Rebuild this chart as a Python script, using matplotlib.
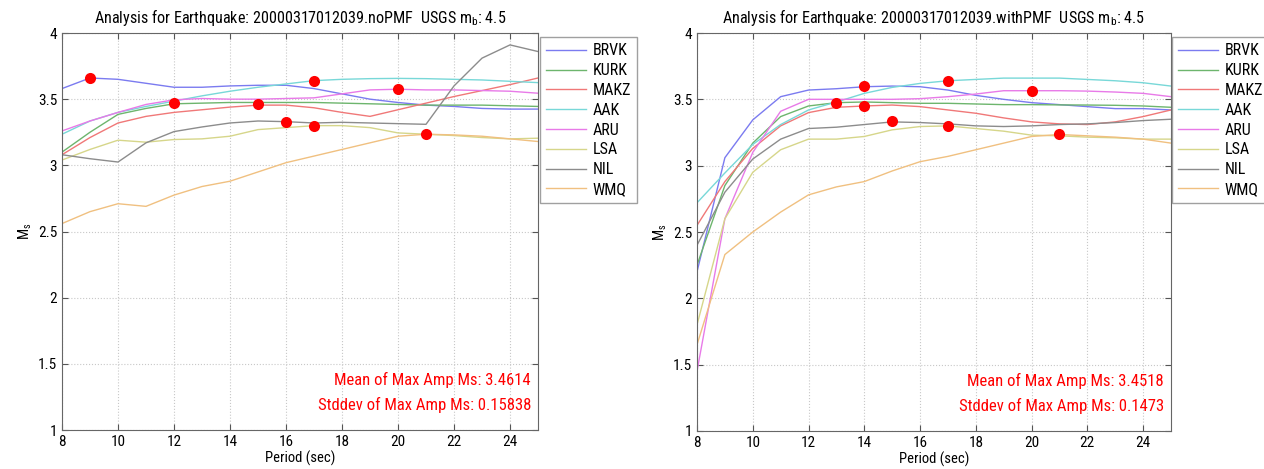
import matplotlib
matplotlib.use("Agg")
import matplotlib.pyplot as plt
from matplotlib import font_manager

# look for a condensed face, fall back to plain DejaVu Sans
names = {f.name for f in font_manager.fontManager.ttflist}
narrow = [n for n in ['Liberation Sans Narrow', 'DejaVu Sans Condensed', 'Roboto Condensed'] if n in names]
plt.rcParams['font.family'] = narrow + ['DejaVu Sans']

# --- DATA ---
periods = list(range(8, 26))
stations = ['BRVK', 'KURK', 'MAKZ', 'AAK', 'ARU', 'LSA', 'NIL', 'WMQ']
colors = ['#7b7bf0', '#6db56d', '#f07878', '#78d8d8', '#e87ae8', '#d6d68a', '#8c8c8c', '#f0c080']

# noPMF panel
brvk_no = [3.58, 3.66, 3.65, 3.62, 3.59, 3.59, 3.60, 3.605, 3.605, 3.58, 3.54, 3.50, 3.475, 3.455, 3.445, 3.43, 3.425, 3.425]
kurk_no = [3.10, 3.25, 3.385, 3.43, 3.465, 3.47, 3.475, 3.475, 3.475, 3.475, 3.47, 3.465, 3.46, 3.455, 3.455, 3.455, 3.45, 3.445]
makz_no = [3.08, 3.21, 3.32, 3.37, 3.40, 3.42, 3.44, 3.455, 3.455, 3.435, 3.40, 3.37, 3.42, 3.47, 3.52, 3.565, 3.61, 3.66]
aak_no = [3.235, 3.335, 3.40, 3.445, 3.485, 3.525, 3.56, 3.59, 3.615, 3.64, 3.65, 3.655, 3.657, 3.655, 3.65, 3.645, 3.635, 3.625]
aru_no = [3.26, 3.335, 3.40, 3.46, 3.495, 3.505, 3.50, 3.50, 3.505, 3.51, 3.54, 3.57, 3.575, 3.57, 3.57, 3.565, 3.56, 3.545]
lsa_no = [3.04, 3.12, 3.19, 3.175, 3.195, 3.20, 3.22, 3.27, 3.285, 3.30, 3.30, 3.285, 3.245, 3.235, 3.225, 3.21, 3.20, 3.205]
nil_no = [3.08, 3.05, 3.025, 3.17, 3.255, 3.29, 3.32, 3.335, 3.33, 3.32, 3.325, 3.32, 3.315, 3.31, 3.60, 3.81, 3.91, 3.86]
wmq_no = [2.56, 2.65, 2.71, 2.69, 2.775, 2.84, 2.88, 2.95, 3.02, 3.07, 3.12, 3.17, 3.22, 3.235, 3.23, 3.22, 3.20, 3.18]
dots_no_x = [9, 12, 15, 16, 17, 17, 20, 21]
dots_no_y = [3.66, 3.47, 3.465, 3.33, 3.64, 3.30, 3.575, 3.24]

# withPMF panel
brvk_pmf = [2.2, 3.06, 3.345, 3.52, 3.57, 3.58, 3.595, 3.6, 3.595, 3.57, 3.53, 3.5, 3.475, 3.46, 3.445, 3.43, 3.43, 3.42]
kurk_pmf = [2.25, 2.85, 3.17, 3.37, 3.45, 3.475, 3.48, 3.475, 3.47, 3.47, 3.465, 3.46, 3.46, 3.458, 3.457, 3.455, 3.45, 3.44]
makz_pmf = [2.55, 2.88, 3.13, 3.30, 3.40, 3.44, 3.45, 3.457, 3.445, 3.42, 3.395, 3.36, 3.33, 3.315, 3.31, 3.33, 3.37, 3.42]
aak_pmf = [2.72, 2.945, 3.16, 3.31, 3.42, 3.48, 3.545, 3.59, 3.62, 3.64, 3.65, 3.66, 3.66, 3.66, 3.65, 3.64, 3.625, 3.60]
aru_pmf = [1.45, 2.6, 3.1, 3.41, 3.5, 3.5, 3.5, 3.5, 3.505, 3.52, 3.54, 3.565, 3.565, 3.565, 3.562, 3.555, 3.545, 3.52]
lsa_pmf = [1.8, 2.6, 2.95, 3.12, 3.2, 3.2, 3.22, 3.27, 3.295, 3.30, 3.28, 3.26, 3.23, 3.225, 3.215, 3.21, 3.2, 3.2]
nil_pmf = [2.4, 2.8, 3.05, 3.2, 3.28, 3.29, 3.31, 3.33, 3.325, 3.315, 3.30, 3.295, 3.30, 3.31, 3.315, 3.325, 3.34, 3.35]
wmq_pmf = [1.65, 2.33, 2.5, 2.65, 2.78, 2.84, 2.88, 2.96, 3.03, 3.07, 3.12, 3.17, 3.22, 3.235, 3.225, 3.215, 3.20, 3.17]
dots_pmf_x = [13, 14, 14, 15, 17, 17, 20, 21]
dots_pmf_y = [3.475, 3.60, 3.45, 3.34, 3.635, 3.30, 3.565, 3.24]

series_no = [brvk_no, kurk_no, makz_no, aak_no, aru_no, lsa_no, nil_no, wmq_no]
series_pmf = [brvk_pmf, kurk_pmf, makz_pmf, aak_pmf, aru_pmf, lsa_pmf, nil_pmf, wmq_pmf]

titles = ['Analysis for Earthquake: 20000317012039.noPMF  USGS m$_\\mathregular{b}$: 4.5',
          'Analysis for Earthquake: 20000317012039.withPMF  USGS m$_\\mathregular{b}$: 4.5']
stats = [('Mean of Max Amp Ms: 3.4614', 'Stddev of Max Amp Ms: 0.15838'),
         ('Mean of Max Amp Ms: 3.4518', 'Stddev of Max Amp Ms: 0.1473')]

small = 1.0 if narrow else 0.87

fig = plt.figure(figsize=(12.64, 4.69), dpi=100)
ax1 = fig.add_axes([62 / 1264, 1 - 430 / 469, 476 / 1264, 397 / 469])
ax2 = fig.add_axes([697 / 1264, 1 - 431 / 469, 474 / 1264, 398 / 469])
legend_x = [540 / 1264, 1172 / 1264]

for i, (ax, series, dx, dy) in enumerate([(ax1, series_no, dots_no_x, dots_no_y),
                                           (ax2, series_pmf, dots_pmf_x, dots_pmf_y)]):
    for name, vals, c in zip(stations, series, colors):
        ax.plot(periods, vals, color=c, lw=1.0, label=name)
    ax.plot(dx, dy, 'o', color='red', ms=8, mew=0, zorder=5)

    ax.set_xlim(8, 25)
    ax.set_ylim(1, 4)
    ax.set_xticks(range(8, 25, 2))
    ax.set_yticks([1, 1.5, 2, 2.5, 3, 3.5, 4])
    ax.set_yticklabels(['1', '1.5', '2', '2.5', '3', '3.5', '4'])
    ax.grid(True, ls=':', color='#c8c8c8', lw=0.8)
    ax.tick_params(direction='in', top=True, right=True, labelsize=11 * small, length=4, color='#555555')
    for s in ax.spines.values():
        s.set_color('#666666')
    ax.set_title(titles[i], fontsize=11.6 * small, pad=7)
    ax.set_xlabel('Period (sec)', fontsize=10.5 * small, labelpad=1)
    ax.set_ylabel('M$_\\mathregular{s}$', fontsize=10.5 * small, labelpad=3)
    ax.text(24.75, 1.38, stats[i][0], color='red', ha='right', va='center', fontsize=12 * small)
    ax.text(24.75, 1.19, stats[i][1], color='red', ha='right', va='center', fontsize=12 * small)

    leg = ax.legend(loc='upper left', bbox_to_anchor=(legend_x[i], 1 - 37 / 469),
                    bbox_transform=fig.transFigure, prop={'size': 11.5 * small}, frameon=True,
                    fancybox=False, handlelength=2.5, handletextpad=0.4,
                    labelspacing=0.3, borderpad=0.4, borderaxespad=0)
    leg.get_frame().set_edgecolor('#888888')
    leg.get_frame().set_linewidth(1.0)

fig.savefig('out.png', dpi=100)
